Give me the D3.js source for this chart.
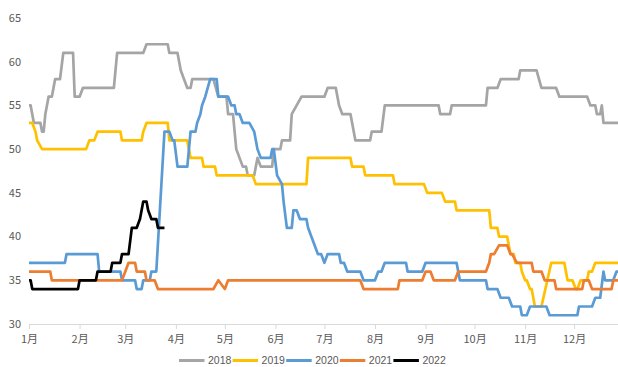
<!DOCTYPE html>
<html>
<head>
<meta charset="utf-8">
<script src="https://cdn.jsdelivr.net/npm/d3@7"></script>
<style>
  html, body { margin: 0; padding: 0; background: #fff; }
  svg { display: block; font-family: "Noto Sans CJK SC", "Noto Sans", sans-serif; }
</style>
</head>
<body>
<svg id="chart" width="618" height="367"></svg>
<script>
// Daily price by year: [day of year (0 = 1 Jan), value]
const s2018 = [[0,55],[1,55],[3,53],[7,53],[8,52],[9,52],[10,54],[11,55],[12,56],[14,56],[16,58],[19,58],[21,61],[27,61],[28,56],[31,56],[33,57],[52,57],[54,61],[70,61],[72,62],[85,62],[86,61],[91,61],[93,59],[95,58],[97,57],[99,57],[100,58],[113,58],[116,56],[121,56],[122,54],[125,54],[127,50],[129,49],[131,48],[133,48],[134,47],[138,47],[140,49],[142,48],[149,48],[150,50],[154,50],[155,51],[160,51],[161,54],[164,55],[167,56],[181,56],[183,57],[188,57],[190,55],[192,54],[197,54],[200,51],[209,51],[210,52],[216,52],[218,55],[251,55],[252,54],[258,54],[259,55],[280,55],[281,57],[287,57],[289,58],[300,58],[301,59],[311,59],[314,57],[323,57],[325,56],[342,56],[344,55],[347,55],[348,54],[350,54],[351,55],[352,53],[364,53]];
const s2019 = [[0,53],[2,53],[4,52],[5,51],[8,50],[35,50],[37,51],[40,51],[42,52],[56,52],[57,51],[69,51],[70,52],[72,53],[85,53],[86,51],[97,51],[99,49],[106,49],[107,48],[114,48],[115,47],[137,47],[139,46],[170,46],[171,49],[197,49],[198,48],[205,48],[206,47],[223,47],[224,46],[242,46],[244,45],[253,45],[255,44],[261,44],[262,43],[282,43],[283,41],[287,41],[288,40],[293,40],[294,39],[295,38],[297,38],[298,37],[301,37],[302,36],[304,35],[305,35],[307,34],[308,34],[310,32],[314,32],[320,37],[328,37],[330,35],[333,35],[335,34],[336,34],[338,35],[342,35],[343,36],[345,36],[347,37],[364,37]];
const s2020 = [[0,37],[22,37],[23,38],[42,38],[43,36],[56,36],[57,35],[65,35],[66,34],[69,34],[70,35],[74,35],[75,36],[78,36],[83,52],[86,52],[88,51],[89,51],[91,48],[97,48],[99,52],[102,52],[103,53],[105,54],[106,55],[108,56],[111,58],[115,58],[116,56],[122,56],[124,55],[126,55],[127,54],[129,54],[131,53],[135,53],[138,52],[140,50],[142,49],[148,49],[149,50],[150,50],[152,47],[155,46],[156,44],[158,41],[161,41],[162,43],[164,43],[166,42],[170,42],[171,41],[173,40],[175,39],[177,38],[179,38],[181,37],[183,38],[190,38],[191,37],[193,37],[195,36],[203,36],[205,35],[212,35],[214,36],[216,36],[218,37],[231,37],[232,36],[241,36],[243,37],[262,37],[264,35],[280,35],[281,34],[287,34],[289,33],[294,33],[296,32],[301,32],[302,31],[305,31],[307,32],[317,32],[319,31],[336,31],[337,32],[345,32],[347,33],[350,33],[352,36],[353,35],[358,35],[360,36],[364,36]];
const s2021 = [[0,36],[13,36],[14,35],[57,35],[59,36],[61,37],[65,37],[66,36],[71,36],[72,35],[77,35],[79,34],[113,34],[116,35],[120,34],[122,35],[203,35],[205,34],[226,34],[227,35],[241,35],[243,36],[246,36],[248,35],[261,35],[263,36],[280,36],[282,37],[283,38],[285,38],[288,39],[293,39],[295,38],[296,38],[299,37],[308,37],[309,36],[314,36],[316,35],[322,35],[323,34],[339,34],[340,35],[343,35],[345,34],[357,34],[358,35],[364,35]];
const s2022 = [[0,35],[1,35],[2,34],[30,34],[31,35],[41,35],[42,36],[50,36],[51,37],[56,37],[57,38],[61,38],[63,41],[66,41],[68,42],[70,44],[72,44],[73,43],[75,42],[78,42],[79,41],[83,41]];

const years = ["2018", "2019", "2020", "2021", "2022"];
const seriesData = [s2018, s2019, s2020, s2021, s2022];
const colors = ["#A5A5A5", "#FFC000", "#5B9BD5", "#ED7D31", "#000000"];
const monthLabels = ["1月","2月","3月","4月","5月","6月","7月","8月","9月","10月","11月","12月"];
const yTicks = [30, 35, 40, 45, 50, 55, 60, 65];

const svg = d3.select("#chart");
const baseYear = 2021;
const dayToDate = d => new Date(baseYear, 0, 1 + d);

const x = d3.scaleTime()
  .domain([new Date(baseYear, 0, 1), new Date(baseYear + 1, 0, 1)])
  .range([29, 29 + 365 * 1.632]);
const y = d3.scaleLinear().domain([30, 65]).range([324, 18]);

// y-axis labels (no axis line or gridlines)
svg.append("g")
  .selectAll("text")
  .data(yTicks)
  .join("text")
  .attr("x", 21)
  .attr("y", d => y(d))
  .attr("dy", "0.35em")
  .attr("text-anchor", "end")
  .attr("font-size", 11)
  .attr("fill", "#595959")
  .text(d => d);

// x-axis with month ticks
const monthStarts = d3.range(12).map(m => new Date(baseYear, m, 1));
const xAxis = d3.axisBottom(x)
  .tickValues(monthStarts)
  .tickFormat((d, i) => monthLabels[i])
  .tickSize(5)
  .tickSizeOuter(0)
  .tickPadding(6);
const gx = svg.append("g").attr("transform", "translate(0,324)").call(xAxis);
gx.select(".domain").attr("stroke", "#D9D9D9").attr("d", "M29,0.5H618");
gx.selectAll(".tick line").attr("stroke", "#D9D9D9");
gx.selectAll(".tick text")
  .attr("font-size", 11)
  .attr("fill", "#595959")
  .attr("font-family", "\"Noto Sans CJK SC\", sans-serif");

// series lines
const line = d3.line()
  .x(d => x(dayToDate(d[0])))
  .y(d => y(d[1]));

svg.append("g")
  .attr("fill", "none")
  .attr("stroke-width", 2.7)
  .attr("stroke-linejoin", "round")
  .selectAll("path")
  .data(seriesData)
  .join("path")
  .attr("stroke", (d, i) => colors[i])
  .attr("d", line);

// legend along the bottom edge
const legend = svg.append("g").attr("transform", "translate(179,360.5)");
const items = legend.selectAll("g")
  .data(years)
  .join("g")
  .attr("transform", (d, i) => `translate(${i * 53.6},0)`);
items.append("line")
  .attr("x1", 0).attr("x2", 25.5)
  .attr("y1", 0).attr("y2", 0)
  .attr("stroke", (d, i) => colors[i])
  .attr("stroke-width", 3);
items.append("text")
  .attr("x", 29)
  .attr("y", 0)
  .attr("dy", "0.33em")
  .attr("font-size", 10.5)
  .attr("fill", "#595959")
  .attr("font-family", "\"Liberation Sans\", Arial, sans-serif")
  .text(d => d);
</script>
</body>
</html>
